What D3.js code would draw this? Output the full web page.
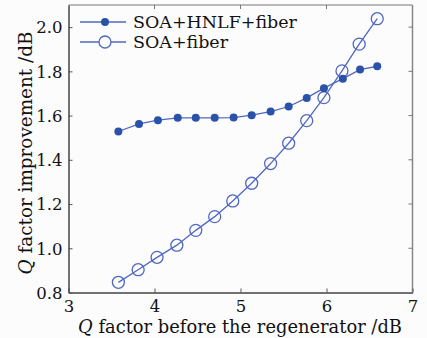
<!DOCTYPE html>
<html><head><meta charset="utf-8">
<script src="https://cdn.jsdelivr.net/npm/d3@7"></script>
<style>
body{margin:0;background:#fcfcfc;}
svg{display:block;}
svg text{font-family:"DejaVu Serif","Liberation Serif","Times New Roman",serif;fill:#111;}
</style></head>
<body><svg id="c" width="427" height="338"></svg>
<script>
const xHNLF = [3.58,3.82,4.04,4.27,4.48,4.70,4.92,5.13,5.35,5.56,5.77,5.97,6.19,6.39,6.59];
const yHNLF = [1.528,1.562,1.579,1.590,1.590,1.590,1.591,1.602,1.618,1.641,1.680,1.724,1.767,1.808,1.823];
const xFiber = [3.58,3.81,4.03,4.26,4.48,4.70,4.91,5.13,5.35,5.56,5.77,5.97,6.18,6.38,6.59];
const yFiber = [0.846,0.903,0.959,1.014,1.081,1.143,1.214,1.294,1.383,1.475,1.577,1.681,1.802,1.923,2.038];
const xTicks = [3,4,5,6,7];
const yTicks = [0.8,1.0,1.2,1.4,1.6,1.8,2.0];
const seriesNames = ["SOA+HNLF+fiber","SOA+fiber"];

const svg = d3.select("#c");
const L=68.5, R=412.5, T=5, B=292.5;
const x = d3.scaleLinear().domain([3,7]).range([L,R]);
const y = d3.scaleLinear().domain([0.8,2.1]).range([B,T]);
const lineCol = "#5068c0", dotCol = "#2a52a8";
const FF = '"DejaVu Serif","Liberation Serif","Times New Roman",serif';

function fit(sel, target){
  sel.attr("font-size",20);
  const w = sel.node().getComputedTextLength();
  sel.attr("font-size", 20*target/w);
  return 20*target/w;
}

// frame
svg.append("line").attr("x1",L).attr("x2",R).attr("y1",T).attr("y2",T).attr("stroke","#777").attr("stroke-width",1.2);
svg.append("line").attr("x1",R).attr("x2",R).attr("y1",T).attr("y2",B).attr("stroke","#888").attr("stroke-width",1.5);

const tickFS = 16.5;
const xa = svg.append("g").attr("transform",`translate(0,${B})`)
  .call(d3.axisBottom(x).tickValues(xTicks).tickFormat(d3.format("d")).tickSizeInner(-4).tickSizeOuter(0).tickPadding(8));
const ya = svg.append("g").attr("transform",`translate(${L},0)`)
  .call(d3.axisLeft(y).tickValues(yTicks).tickFormat(d3.format(".1f")).tickSizeInner(-4).tickSizeOuter(0).tickPadding(6));
[xa,ya].forEach(g=>{
  g.attr("font-family",null).attr("font-size",null);
  g.select(".domain").attr("stroke","#444").attr("stroke-width",1.5);
  g.selectAll(".tick line").attr("stroke","#555");
  g.selectAll(".tick text").attr("font-size",tickFS).style("font-family",FF).attr("fill","#111");
});
ya.selectAll(".tick text").attr("dy","0.35em");
// right ticks
svg.append("g").selectAll("line").data(yTicks.slice(1)).join("line")
  .attr("x1",R).attr("x2",R-4).attr("y1",d=>y(d)).attr("y2",d=>y(d)).attr("stroke","#777");
svg.append("g").selectAll("line").data(xTicks.slice(1,-1)).join("line")
  .attr("x1",d=>x(d)).attr("x2",d=>x(d)).attr("y1",T).attr("y2",T+4).attr("stroke","#777");

const line = d3.line().x(d=>x(d[0])).y(d=>y(d[1]));
const d1 = xHNLF.map((v,i)=>[v,yHNLF[i]]);
const d2 = xFiber.map((v,i)=>[v,yFiber[i]]);
svg.append("path").datum(d2).attr("d",line).attr("fill","none").attr("stroke",lineCol).attr("stroke-width",1.3);
svg.append("path").datum(d1).attr("d",line).attr("fill","none").attr("stroke",lineCol).attr("stroke-width",1.3);
svg.append("g").selectAll("circle").data(d2).join("circle")
  .attr("cx",d=>x(d[0])).attr("cy",d=>y(d[1])).attr("r",6).attr("fill","none").attr("stroke",lineCol).attr("stroke-width",1.3);
svg.append("g").selectAll("circle").data(d1).join("circle")
  .attr("cx",d=>x(d[0])).attr("cy",d=>y(d[1])).attr("r",4).attr("fill",dotCol);

// legend
const lg = svg.append("g");
let legFS = null;
seriesNames.forEach((n,i)=>{
  const yy = 22 + i*20;
  lg.append("line").attr("x1",80).attr("x2",126).attr("y1",yy).attr("y2",yy).attr("stroke",lineCol).attr("stroke-width",1.3);
  if(i===0) lg.append("circle").attr("cx",105).attr("cy",yy).attr("r",4).attr("fill",dotCol);
  else lg.append("circle").attr("cx",105).attr("cy",yy).attr("r",6).attr("fill","#fcfcfc").attr("stroke",lineCol).attr("stroke-width",1.3);
  const t = lg.append("text").attr("x",133).attr("y",yy).attr("dy","0.35em").style("font-family",FF).text(n);
  if(i===0) legFS = fit(t,164); else t.attr("font-size",legFS);
});

// axis titles
const xt = svg.append("text").attr("x",240).attr("y",333).attr("text-anchor","middle").style("font-family",FF);
xt.append("tspan").attr("font-style","italic").text("Q");
xt.append("tspan").text(" factor before the regenerator /dB");
fit(xt,324);
const yt = svg.append("text").attr("transform","translate(32,153) rotate(-90)").attr("text-anchor","middle").style("font-family",FF);
yt.append("tspan").attr("font-style","italic").text("Q");
yt.append("tspan").text(" factor improvement /dB");
fit(yt,243);
</script></body></html>
